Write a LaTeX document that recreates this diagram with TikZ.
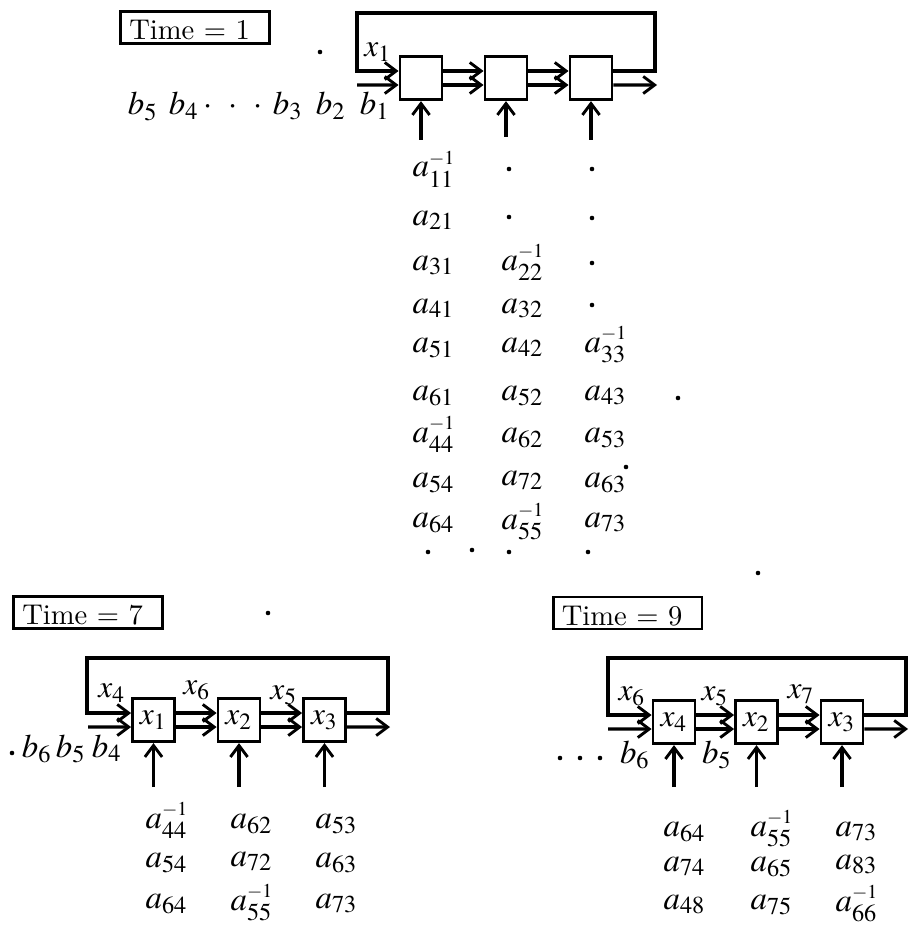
\documentclass[tikz,border=0pt]{standalone}
\usepackage{mathptmx}
\usepackage{tikz}
\usetikzlibrary{
  arrows.meta,
  positioning
}
\newcommand{\ainv}[1]{a^{\scriptscriptstyle -1}_{#1}}
\tikzset{
  cell/.style={
    draw, line width=1pt, minimum width=14.7pt, minimum height=15.2pt,
    inner sep=0pt, font=\fontsize{11}{13}\selectfont
  },
  timebox/.style={
    draw, line width=0.9pt, text width=46pt, align=left, inner xsep=3pt,
    inner ysep=0.8pt, text height=9pt, text depth=0.5pt
  },
  feed/.style={-{Straight Barb[length=4pt, width=6pt, line width=1pt]}, line width=1.1pt},
  entry/.style={anchor=base west, inner sep=0pt, font=\fontsize{11.5}{13}\selectfont},
  blabel/.style={anchor=base, inner sep=0pt, font=\fontsize{11.5}{13}\selectfont},
  xlabel/.style={inner sep=0pt, font=\fontsize{11}{13}\selectfont}
}

\begin{document}
\begin{tikzpicture}[x=0.35pt, y=-0.35pt]
  \useasboundingbox (0,0) rectangle (908,929);

  % Time = 1
  \node[timebox] (time1) at (195,27.5) {Time = 1};
  \node[cell] (t-c1) at (421,78) {};
  \node[cell] (t-c2) at (506,78) {};
  \node[cell] (t-c3) at (591,78) {};
  \coordinate (t-tl) at (357,13);
  \coordinate (t-tr) at (655,13);
  \coordinate (t-in) at (357,85);
  \coordinate (t-out) at (657,85);
  \coordinate (t-u1) at (421,140);
  \coordinate (t-u2) at (506,137);
  \coordinate (t-u3) at (591,140);
  \draw[feed] ([yshift=2.45pt]t-c3.east) -| (t-tr) -- (t-tl) |- ([yshift=2.45pt]t-c1.west);
  \draw[feed] (t-in) -- ([yshift=-2.45pt]t-c1.west);
  \draw[feed] ([yshift=2.45pt]t-c1.east) -- ([yshift=2.45pt]t-c2.west);
  \draw[feed] ([yshift=-2.45pt]t-c1.east) -- ([yshift=-2.45pt]t-c2.west);
  \draw[feed] ([yshift=2.45pt]t-c2.east) -- ([yshift=2.45pt]t-c3.west);
  \draw[feed] ([yshift=-2.45pt]t-c2.east) -- ([yshift=-2.45pt]t-c3.west);
  \draw[feed] ([yshift=-2.45pt]t-c3.east) -- (t-out);
  \draw[feed] (t-u1) -- (t-c1.south);
  \draw[feed] (t-u2) -- (t-c2.south);
  \draw[feed] (t-u3) -- (t-c3.south);
  \node[xlabel] (t-x1) at (378,52) {$x_1$};
  \node[blabel] (t-b5) at (143,115) {$b_5$};
  \node[blabel] (t-b4) at (184,115) {$b_4$};
  \node[blabel] (t-dots) at (233,115) {$\cdot\hspace{4pt}\cdot\hspace{4pt}\cdot$};
  \node[blabel] (t-b3) at (288,115) {$b_3$};
  \node[blabel] (t-b2) at (331,115) {$b_2$};
  \node[blabel] (t-b1) at (375,115) {$b_1$};
  \node[entry] (t-a11) at (412,177) {$\ainv{11}$};
  \node[entry] (t-a21) at (412,225) {$a_{21}$};
  \node[entry] (t-a31) at (412,270) {$a_{31}$};
  \node[entry] (t-a41) at (412,313) {$a_{41}$};
  \node[entry] (t-a51) at (412,352) {$a_{51}$};
  \node[entry] (t-a61) at (412,400) {$a_{61}$};
  \node[entry] (t-a44) at (412,442) {$\ainv{44}$};
  \node[entry] (t-a54) at (412,487) {$a_{54}$};
  \node[entry] (t-a64) at (412,527) {$a_{64}$};
  \node[entry] (t-a22) at (501,270) {$\ainv{22}$};
  \node[entry] (t-a32) at (501,313) {$a_{32}$};
  \node[entry] (t-a42) at (501,352) {$a_{42}$};
  \node[entry] (t-a52) at (501,400) {$a_{52}$};
  \node[entry] (t-a62) at (501,442) {$a_{62}$};
  \node[entry] (t-a72) at (501,485) {$a_{72}$};
  \node[entry] (t-a55) at (501,529) {$\ainv{55}$};
  \node[entry] (t-a33) at (584,352) {$\ainv{33}$};
  \node[entry] (t-a43) at (584,400) {$a_{43}$};
  \node[entry] (t-a53) at (584,442) {$a_{53}$};
  \node[entry] (t-a63) at (584,487) {$a_{63}$};
  \node[entry] (t-a73) at (584,527) {$a_{73}$};
  \foreach \px/\py in {509/169, 509/217, 592/169, 592/218, 592/263, 592/305,
                       428/552, 472/550, 509/552, 588/552, 320/52, 678/398, 626/467}
    \fill (\px,\py) circle (0.8pt);

  % Time = 7
  \node[timebox] (time7) at (88,612.5) {Time = 7};
  \node[cell] (s-c1) at (153.5,720) {$x_1$};
  \node[cell] (s-c2) at (239,720) {$x_2$};
  \node[cell] (s-c3) at (324.5,720) {$x_3$};
  \coordinate (s-tl) at (87,658);
  \coordinate (s-tr) at (388,658);
  \coordinate (s-in) at (88,727);
  \coordinate (s-out) at (390,727);
  \coordinate (s-u1) at (153.5,787);
  \coordinate (s-u2) at (239,787);
  \coordinate (s-u3) at (324.5,787);
  \draw[feed] ([yshift=2.45pt]s-c3.east) -| (s-tr) -- (s-tl) |- ([yshift=2.45pt]s-c1.west);
  \draw[feed] (s-in) -- ([yshift=-2.45pt]s-c1.west);
  \draw[feed] ([yshift=2.45pt]s-c1.east) -- ([yshift=2.45pt]s-c2.west);
  \draw[feed] ([yshift=-2.45pt]s-c1.east) -- ([yshift=-2.45pt]s-c2.west);
  \draw[feed] ([yshift=2.45pt]s-c2.east) -- ([yshift=2.45pt]s-c3.west);
  \draw[feed] ([yshift=-2.45pt]s-c2.east) -- ([yshift=-2.45pt]s-c3.west);
  \draw[feed] ([yshift=-2.45pt]s-c3.east) -- (s-out);
  \draw[feed] (s-u1) -- (s-c1.south);
  \draw[feed] (s-u2) -- (s-c2.south);
  \draw[feed] (s-u3) -- (s-c3.south);
  \node[xlabel] (s-x4) at (112,693) {$x_4$};
  \node[xlabel] (s-x6) at (197,690) {$x_6$};
  \node[xlabel] (s-x5) at (284,695) {$x_5$};
  \node[blabel] (s-b6) at (37,757) {$b_6$};
  \node[blabel] (s-b5) at (71,757) {$b_5$};
  \node[blabel] (s-b4) at (107,757) {$b_4$};
  \node[entry] (s-a44) at (145,828) {$\ainv{44}$};
  \node[entry] (s-a54) at (145,867) {$a_{54}$};
  \node[entry] (s-a64) at (145,908) {$a_{64}$};
  \node[entry] (s-a62) at (230,828) {$a_{62}$};
  \node[entry] (s-a72) at (230,866) {$a_{72}$};
  \node[entry] (s-a55) at (230,910) {$\ainv{55}$};
  \node[entry] (s-a53) at (315,828) {$a_{53}$};
  \node[entry] (s-a63) at (315,867) {$a_{63}$};
  \node[entry] (s-a73) at (315,908) {$a_{73}$};
  \foreach \px/\py in {12/753, 268/613}
    \fill (\px,\py) circle (0.8pt);

  % Time = 9
  \node[timebox] (time9) at (627.5,613) {Time = 9};
  \node[cell] (n-c1) at (674,722) {$x_4$};
  \node[cell] (n-c2) at (756.5,722) {$x_2$};
  \node[cell] (n-c3) at (842,722) {$x_3$};
  \coordinate (n-tl) at (608,658);
  \coordinate (n-tr) at (906,658);
  \coordinate (n-in) at (608,729);
  \coordinate (n-out) at (908,729);
  \coordinate (n-u1) at (674,787);
  \coordinate (n-u2) at (756.5,787);
  \coordinate (n-u3) at (842,787);
  \draw[feed] ([yshift=2.45pt]n-c3.east) -| (n-tr) -- (n-tl) |- ([yshift=2.45pt]n-c1.west);
  \draw[feed] (n-in) -- ([yshift=-2.45pt]n-c1.west);
  \draw[feed] ([yshift=2.45pt]n-c1.east) -- ([yshift=2.45pt]n-c2.west);
  \draw[feed] ([yshift=-2.45pt]n-c1.east) -- ([yshift=-2.45pt]n-c2.west);
  \draw[feed] ([yshift=2.45pt]n-c2.east) -- ([yshift=2.45pt]n-c3.west);
  \draw[feed] ([yshift=-2.45pt]n-c2.east) -- ([yshift=-2.45pt]n-c3.west);
  \draw[feed] ([yshift=-2.45pt]n-c3.east) -- (n-out);
  \draw[feed] (n-u1) -- (n-c1.south);
  \draw[feed] (n-u2) -- (n-c2.south);
  \draw[feed] (n-u3) -- (n-c3.south);
  \node[xlabel] (n-x6) at (632,696) {$x_6$};
  \node[xlabel] (n-x5) at (715,696) {$x_5$};
  \node[xlabel] (n-x7) at (801,694) {$x_7$};
  \node[blabel] (n-b6) at (635,763) {$b_6$};
  \node[blabel] (n-b5) at (717,763) {$b_5$};
  \node[entry] (n-a64) at (663,836) {$a_{64}$};
  \node[entry] (n-a74) at (663,871) {$a_{74}$};
  \node[entry] (n-a48) at (663,909) {$a_{48}$};
  \node[entry] (n-a55) at (750,836) {$\ainv{55}$};
  \node[entry] (n-a65) at (750,871) {$a_{65}$};
  \node[entry] (n-a75) at (750,909) {$a_{75}$};
  \node[entry] (n-a73) at (835,836) {$a_{73}$};
  \node[entry] (n-a83) at (835,869) {$a_{83}$};
  \node[entry] (n-a66) at (835,911) {$\ainv{66}$};
  \foreach \px/\py in {560/758, 580/758, 600/758, 758/573}
    \fill (\px,\py) circle (0.8pt);
\end{tikzpicture}
\end{document}
